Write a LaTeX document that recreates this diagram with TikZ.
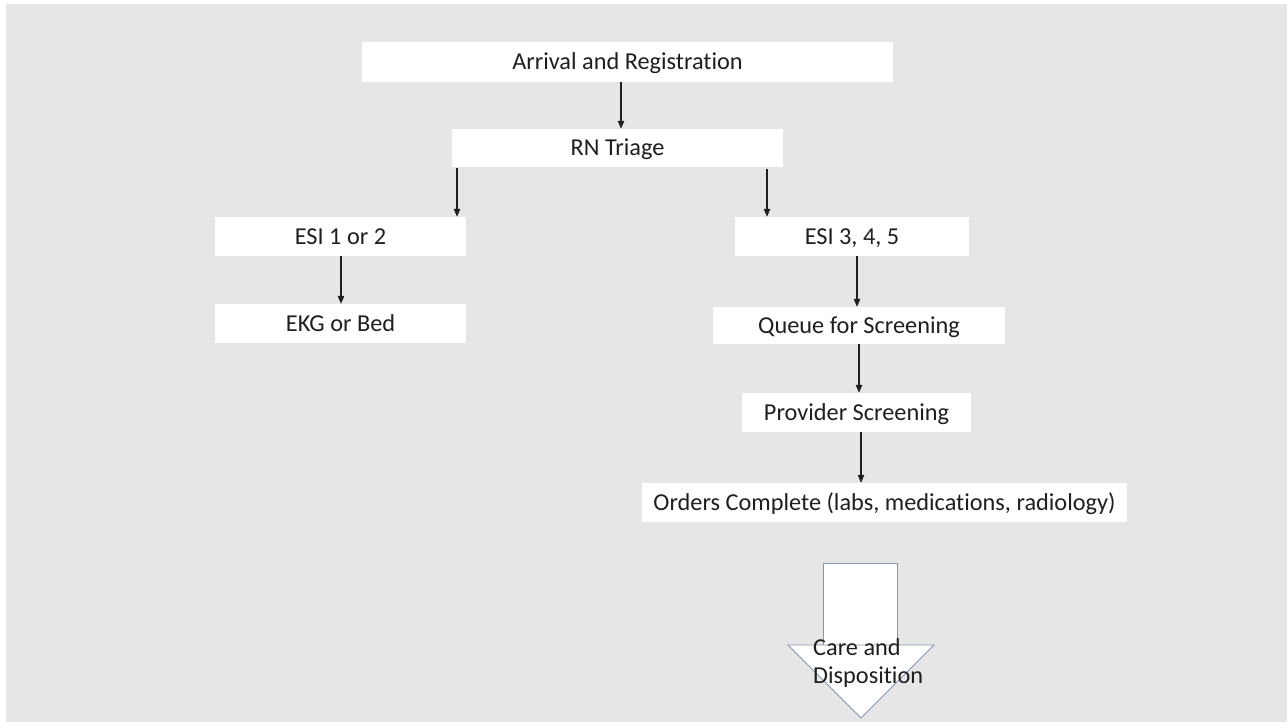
\documentclass[tikz,border=0pt]{standalone}
\usepackage{fontspec}
\setmainfont{Carlito}[Ligatures=NoCommon]
\usetikzlibrary{arrows.meta}
\definecolor{bggray}{HTML}{E7E6E6}
\definecolor{txt}{HTML}{1F1F1F}
\definecolor{outl}{RGB}{132,151,176}
\tikzset{
  box/.style={fill=white, draw=none, inner sep=0pt, text=txt,
    font=\fontsize{24.3}{28}\selectfont, text height=15.6pt, text depth=0pt},
  arr/.style={draw=txt, line width=1.1pt, -{Triangle[length=8pt,width=6.5pt]}},
}
\begin{document}
\begin{tikzpicture}[x=1pt,y=-1pt]
\useasboundingbox (0,0) rectangle (1287,722);
\fill[white] (0,0) rectangle (1287,722);
\fill[bggray] (6,4) rectangle (1287,722);
% boxes
\node[box, minimum width=531pt, minimum height=40pt] (arrival) at (627.5,62) {Arrival and Registration};
\node[box, minimum width=331pt, minimum height=38pt] (rn) at (617.5,148) {RN Triage};
\node[box, minimum width=251pt, minimum height=39pt] (esia) at (340.5,236.5) {ESI 1 or 2};
\node[box, minimum width=251pt, minimum height=39pt] (ekg) at (340.5,323.5) {EKG or Bed};
\node[box, minimum width=234pt, minimum height=39pt] (esib) at (852,236.5) {ESI 3, 4, 5};
\node[box, minimum width=292pt, minimum height=37pt] (queue) at (859,325.5) {Queue for Screening};
\node[box, minimum width=229pt, minimum height=39pt] (prov) at (856.5,412.5) {Provider Screening};
\node[box, minimum width=485pt, minimum height=39pt] (orders) at (884.5,502.5) {Orders Complete (labs, medications, radiology)};
% arrow x positions
\coordinate (x1) at (621,0);
\coordinate (x2) at (457,0);
\coordinate (x3) at (767,0);
\coordinate (x4) at (341,0);
\coordinate (x5) at (857,0);
\coordinate (x6) at (859,0);
\coordinate (x7) at (861,0);
\draw[arr] (arrival.south -| x1) -- (rn.north -| x1);
\draw[arr] ([yshift=-1pt]rn.south -| x2) -- (esia.north -| x2);
\draw[arr] ([yshift=-2pt]rn.south -| x3) -- (esib.north -| x3);
\draw[arr] (esia.south -| x4) -- (ekg.north -| x4);
\draw[arr] (esib.south -| x5) -- (queue.north -| x5);
\draw[arr] (queue.south -| x6) -- (prov.north -| x6);
\draw[arr] (prov.south -| x7) -- (orders.north -| x7);
% block arrow
\draw[outl, fill=white, line width=0.9pt] (823,645) -- (823,563) -- (897,563) -- (897,645);
\draw[outl, fill=white, line width=0.9pt, line join=miter] (788,645) -- (934,645) -- (861,718) -- cycle;
\node[inner sep=0pt, anchor=north west, align=left, text=txt,
  font=\fontsize{24.3}{28}\selectfont] (care) at (813,638) {Care and\\Disposition};
\end{tikzpicture}
\end{document}
